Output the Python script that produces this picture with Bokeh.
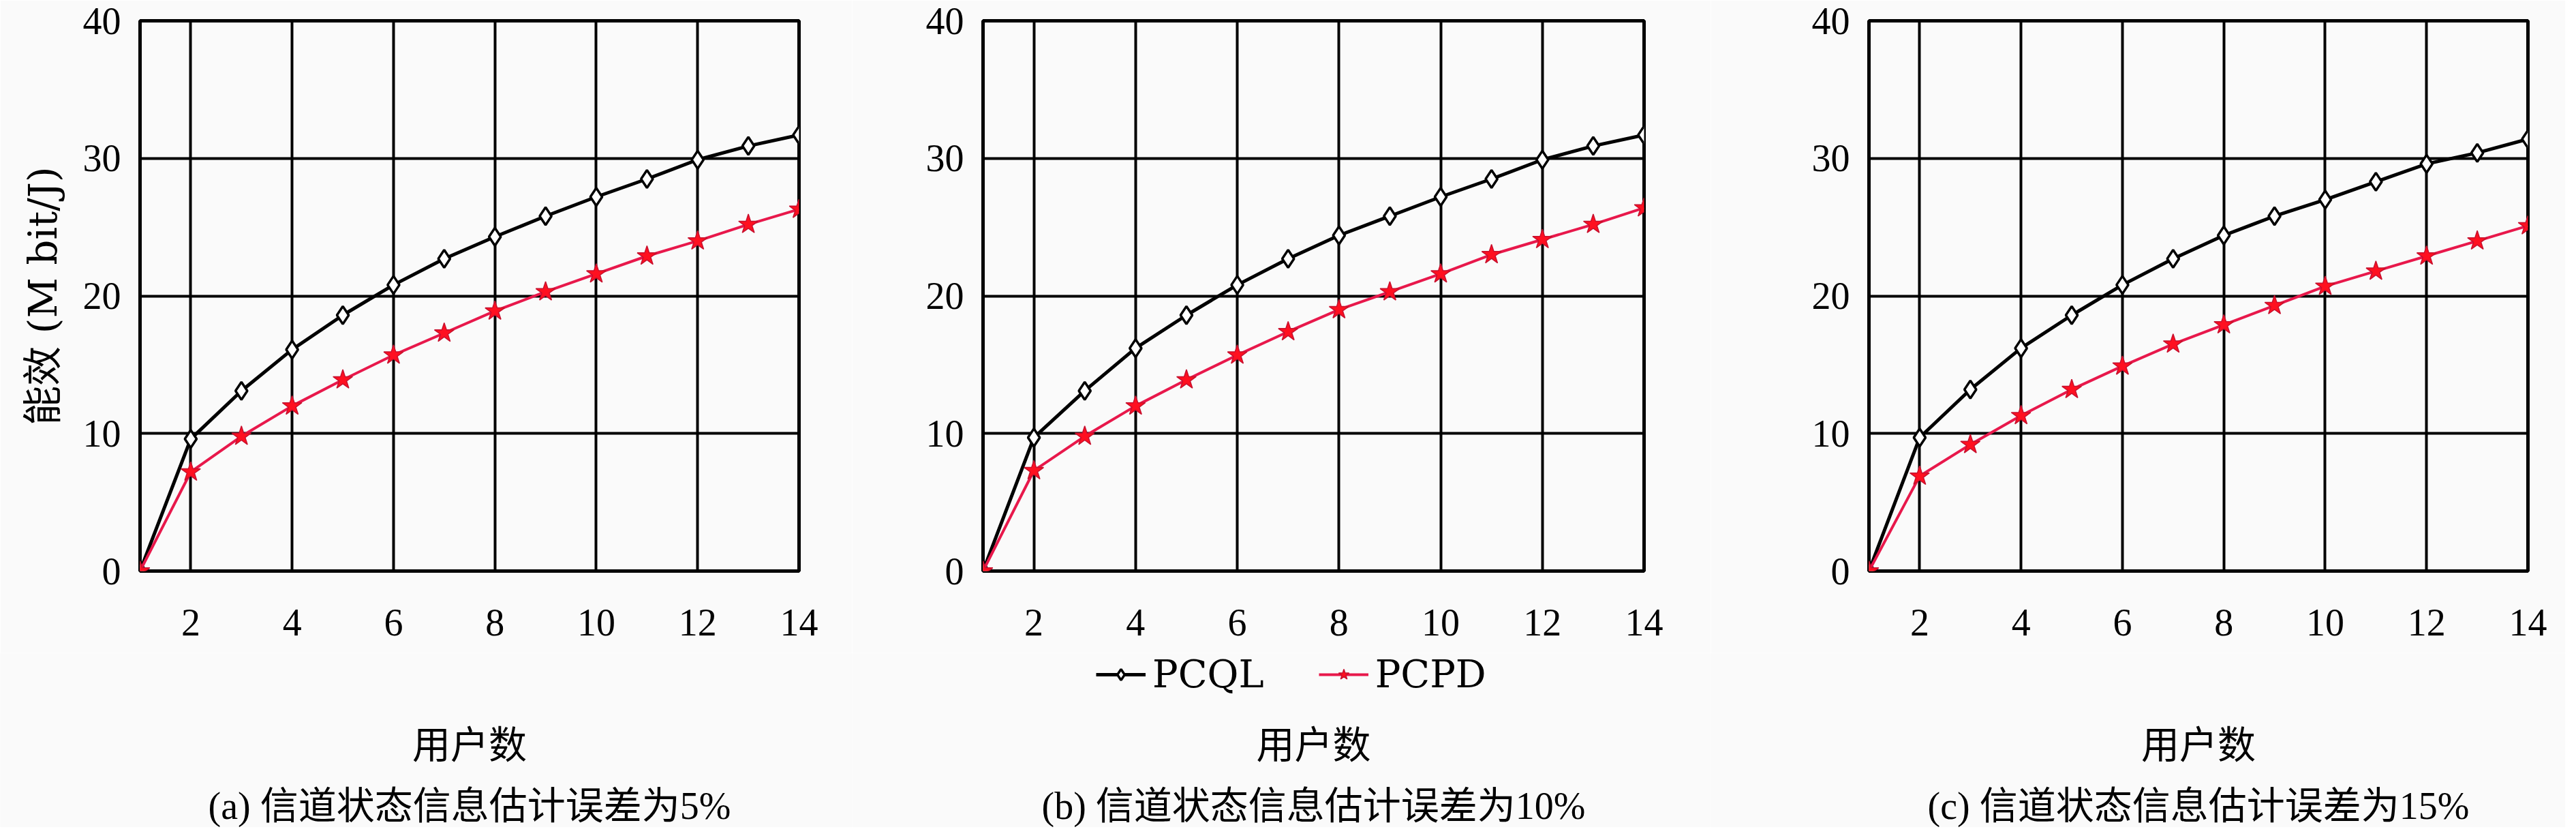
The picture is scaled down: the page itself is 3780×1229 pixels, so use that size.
from bokeh.plotting import figure
from bokeh.layouts import row, column
from bokeh.models import Range1d, FixedTicker, Legend, LegendItem, Label
from bokeh.embed import file_html
from bokeh.resources import INLINE

users = [1, 2, 3, 4, 5, 6, 7, 8, 9, 10, 11, 12, 13, 14]
x_ticks = [2, 4, 6, 8, 10, 12, 14]
y_ticks = [0, 10, 20, 30, 40]

pcql_a = [0, 9.6, 13.1, 16.1, 18.6, 20.8, 22.7, 24.3, 25.8, 27.2, 28.5, 29.9, 30.9, 31.7]
pcpd_a = [0, 7.2, 9.8, 12.0, 13.9, 15.7, 17.3, 18.9, 20.3, 21.6, 22.9, 24.0, 25.2, 26.3]
pcql_b = [0, 9.7, 13.1, 16.2, 18.6, 20.8, 22.7, 24.4, 25.8, 27.2, 28.5, 29.9, 30.9, 31.7]
pcpd_b = [0, 7.3, 9.8, 12.0, 13.9, 15.7, 17.4, 19.0, 20.3, 21.6, 23.0, 24.1, 25.2, 26.4]
pcql_c = [0, 9.7, 13.2, 16.2, 18.6, 20.8, 22.7, 24.4, 25.8, 27.0, 28.3, 29.6, 30.4, 31.4]
pcpd_c = [0, 6.9, 9.2, 11.3, 13.2, 14.9, 16.5, 17.9, 19.3, 20.7, 21.8, 22.9, 24.0, 25.1]

captions = ["(a) 信道状态信息估计误差为5%",
            "(b) 信道状态信息估计误差为10%",
            "(c) 信道状态信息估计误差为15%"]
x_label = "用户数"
y_label = "能效 (M bit/J)"
series_names = ["PCQL", "PCPD"]

SERIF = "Liberation Serif"
WIDE = "DejaVu Serif"
MIXED = "Liberation Serif, Noto Sans CJK SC"
MIXED_WIDE = "DejaVu Serif, Noto Sans CJK SC"
BG = "#fafafa"
RED_LINE = "#e8184b"
RED_FILL = "#ff1020"
RED_EDGE = "#c8102e"

geom = [(205, 967, 78), (192, 970, 98), (232, 967, 55)]
panels = [(pcql_a, pcpd_a), (pcql_b, pcpd_b), (pcql_c, pcpd_c)]
TOP_H = 30 + 807 + 120
BOT_H = 1213 - TOP_H


def draw_series(fig, ql, pd_):
    r1 = fig.line(users, ql, line_color="black", line_width=5)
    r2 = fig.scatter(users, ql, marker="diamond", size=26, fill_color="white",
                     line_color="black", line_width=3.5)
    r3 = fig.line(users, pd_, line_color=RED_LINE, line_width=4)
    r4 = fig.scatter(users, pd_, marker="star", size=30, fill_color=RED_FILL,
                     line_color=RED_EDGE, line_width=1.5)
    return r1, r2, r3, r4


top_figs = []
bot_figs = []
for i, ((ql, pd_), (bl, fw, br)) in enumerate(zip(panels, geom)):
    p = figure(frame_width=fw, frame_height=807,
               min_border_left=bl, min_border_right=br,
               min_border_top=30, min_border_bottom=120,
               x_range=Range1d(1, 14), y_range=Range1d(0, 40),
               output_backend="svg", toolbar_location=None)
    p.background_fill_color = BG
    p.border_fill_color = BG
    p.outline_line_color = "black"
    p.outline_line_width = 5
    p.outline_line_alpha = 1.0

    p.xaxis.ticker = FixedTicker(ticks=x_ticks)
    p.yaxis.ticker = FixedTicker(ticks=y_ticks)
    for ax in (p.xaxis[0], p.yaxis[0]):
        ax.axis_line_color = None
        ax.major_tick_in = 0
        ax.major_tick_out = 0
        ax.minor_tick_line_color = None
        ax.major_label_text_font = SERIF
        ax.major_label_text_font_size = "56px"
        ax.major_label_text_color = "black"
    p.xaxis.major_label_standoff = 56
    p.yaxis.major_label_standoff = 28
    if i == 0:
        p.yaxis.axis_label = y_label
        p.yaxis.axis_label_text_font = MIXED_WIDE
        p.yaxis.axis_label_text_font_size = "58px"
        p.yaxis.axis_label_text_font_style = "normal"
        p.yaxis.axis_label_text_color = "black"
        p.yaxis.axis_label_standoff = 22

    p.xgrid.ticker = FixedTicker(ticks=x_ticks)
    p.ygrid.ticker = FixedTicker(ticks=y_ticks)
    for g in (p.xgrid[0], p.ygrid[0]):
        g.grid_line_color = "black"
        g.grid_line_width = 4
        g.grid_line_alpha = 1.0

    draw_series(p, ql, pd_)
    top_figs.append(p)

    # strip below each panel: x label, caption (and the shared legend)
    w = bl + fw + br
    q = figure(width=w, height=BOT_H, min_border=0,
               x_range=Range1d(-1, 0), y_range=Range1d(0, 1),
               x_axis_type=None, y_axis_type=None,
               output_backend="svg", toolbar_location=None)
    q.background_fill_color = BG
    q.border_fill_color = BG
    q.outline_line_color = None
    q.xgrid.visible = False
    q.ygrid.visible = False
    cx = bl + fw / 2
    q.add_layout(Label(x=cx, y=BOT_H - 135, x_units="screen", y_units="screen",
                       text=x_label, text_font=MIXED, text_font_size="56px",
                       text_align="center", text_baseline="middle",
                       text_color="black"))
    q.add_layout(Label(x=cx, y=BOT_H - 224, x_units="screen", y_units="screen",
                       text=captions[i], text_font=MIXED, text_font_size="56px",
                       text_align="center", text_baseline="middle",
                       text_color="black"))
    if i == 1:
        # same series drawn outside this strip's visible range: only their legend glyphs show
        d1, d2, d3, d4 = draw_series(q, ql, pd_)
        legend = Legend(items=[LegendItem(label=series_names[0], renderers=[d1, d2]),
                               LegendItem(label=series_names[1], renderers=[d3, d4])],
                        location=(358, BOT_H - 64), orientation="horizontal",
                        glyph_width=73, glyph_height=40, label_standoff=10,
                        spacing=80, padding=0, margin=0,
                        border_line_color=None, background_fill_alpha=0,
                        label_text_font=WIDE, label_text_font_size="56px",
                        label_text_color="black")
        q.add_layout(legend)
    bot_figs.append(q)

layout = column(row(*top_figs, spacing=0), row(*bot_figs, spacing=0), spacing=0)
open("out.html", "w").write(file_html(layout, INLINE))
